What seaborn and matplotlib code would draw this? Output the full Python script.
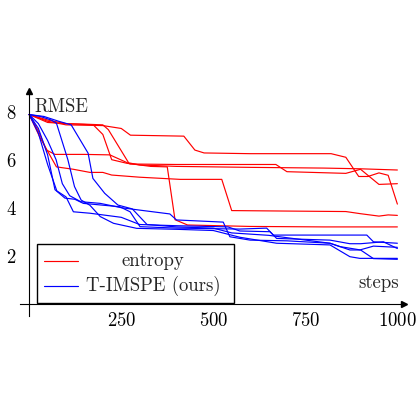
import pandas as pd
import matplotlib
matplotlib.use("Agg")
import matplotlib.pyplot as plt
import matplotlib.patches as mpatches
import seaborn as sns

sns.set_style("white")
plt.rcParams['font.family'] = ['cmr10', 'DejaVu Serif']
plt.rcParams['axes.formatter.use_mathtext'] = True

# entropy runs (red)
ent1_steps = [0, 50, 100, 200, 250, 275, 420, 450, 475, 600, 820, 860, 895, 920, 950, 975, 1000]
ent1_rmse = [7.88, 7.6, 7.45, 7.42, 7.3, 7.02, 6.98, 6.4, 6.28, 6.25, 6.25, 6.1, 5.3, 5.3, 5.45, 5.35, 4.15]
ent2_steps = [0, 25, 47, 70, 150, 219, 274, 400, 670, 700, 860, 900, 950, 1000]
ent2_rmse = [7.88, 7.2, 6.4, 6.22, 6.22, 6.2, 5.82, 5.8, 5.8, 5.5, 5.43, 5.6, 4.97, 5.0]
ent3_steps = [0, 50, 100, 174, 200, 224, 265, 330, 375, 396, 430, 600, 800, 1000]
ent3_rmse = [7.88, 7.55, 7.5, 7.45, 7.05, 6.0, 5.85, 5.72, 5.7, 3.5, 3.28, 3.22, 3.2, 3.2]
ent4_steps = [0, 50, 100, 150, 200, 215, 270, 300, 400, 600, 800, 900, 1000]
ent4_rmse = [7.88, 7.65, 7.5, 7.48, 7.45, 7.25, 5.87, 5.78, 5.72, 5.68, 5.65, 5.62, 5.57]
ent5_steps = [0, 30, 74, 120, 165, 200, 224, 300, 410, 523, 550, 700, 860, 900, 950, 975, 1000]
ent5_rmse = [7.88, 6.9, 5.7, 5.6, 5.47, 5.47, 5.36, 5.27, 5.18, 5.18, 3.88, 3.86, 3.84, 3.75, 3.65, 3.7, 3.68]

# T-IMSPE runs (blue)
tim1_steps = [0, 25, 50, 70, 97, 124, 147, 246, 274, 301, 400, 572, 645, 672, 817, 871, 900, 962, 1000]
tim1_rmse = [7.88, 7.3, 6.2, 4.75, 4.4, 4.35, 4.18, 4.04, 3.83, 3.21, 3.15, 3.11, 3.15, 2.72, 2.65, 2.5, 2.5, 2.58, 2.3]
tim2_steps = [0, 25, 50, 75, 100, 120, 165, 250, 300, 400, 540, 572, 654, 663, 917, 935, 1000]
tim2_rmse = [7.88, 7.1, 5.8, 4.7, 4.45, 3.83, 3.77, 3.6, 3.3, 3.25, 3.2, 3.03, 3.0, 2.86, 2.86, 2.58, 2.52]
tim3_steps = [0, 25, 50, 73, 90, 110, 140, 193, 250, 300, 382, 400, 527, 545, 600, 700, 817, 871, 898, 935, 1000]
tim3_rmse = [7.88, 7.5, 6.8, 6.0, 5.0, 4.5, 4.25, 4.18, 4.0, 3.9, 3.74, 3.49, 3.4, 2.79, 2.65, 2.62, 2.52, 2.24, 2.24, 2.4, 2.35]
tim4_steps = [0, 30, 60, 74, 105, 123, 141, 165, 193, 229, 292, 400, 500, 572, 672, 817, 871, 898, 1000]
tim4_rmse = [7.88, 7.8, 7.65, 7.52, 6.0, 4.88, 4.32, 4.1, 3.63, 3.35, 3.14, 3.1, 3.05, 2.77, 2.52, 2.45, 1.96, 1.89, 1.89]
tim5_steps = [0, 40, 80, 114, 160, 173, 205, 241, 280, 320, 400, 500, 550, 650, 817, 844, 900, 935, 1000]
tim5_rmse = [7.88, 7.8, 7.6, 7.45, 6.27, 5.22, 4.6, 4.11, 3.95, 3.3, 3.2, 3.15, 2.95, 2.85, 2.52, 2.38, 2.24, 1.88, 1.85]

runs = [
    ("entropy", 1, ent1_steps, ent1_rmse),
    ("entropy", 2, ent2_steps, ent2_rmse),
    ("entropy", 3, ent3_steps, ent3_rmse),
    ("entropy", 4, ent4_steps, ent4_rmse),
    ("entropy", 5, ent5_steps, ent5_rmse),
    ("T-IMSPE (ours)", 1, tim1_steps, tim1_rmse),
    ("T-IMSPE (ours)", 2, tim2_steps, tim2_rmse),
    ("T-IMSPE (ours)", 3, tim3_steps, tim3_rmse),
    ("T-IMSPE (ours)", 4, tim4_steps, tim4_rmse),
    ("T-IMSPE (ours)", 5, tim5_steps, tim5_rmse),
]
frames = []
for method, run, st, rm in runs:
    frames.append(pd.DataFrame({"method": method, "run": run, "steps": st, "rmse": rm}))
df = pd.concat(frames, ignore_index=True)

fig = plt.figure(figsize=(4.2, 4.2), dpi=100)
ax = fig.add_axes([20 / 420, 1 - 316 / 420, 384 / 420, 225 / 420])

sns.lineplot(data=df, x="steps", y="rmse", hue="method", units="run",
             estimator=None, sort=False, palette={"entropy": "red", "T-IMSPE (ours)": "blue"},
             linewidth=0.85, legend=False, ax=ax)

ax.set_xlim(-25, 1018)
ax.set_ylim(-0.51, 8.86)
ax.set_xticks([250, 500, 750, 1000])
ax.set_yticks([2, 4, 6, 8])
ax.set_xlabel("")
ax.set_ylabel("")

for s in ["top", "right"]:
    ax.spines[s].set_visible(False)
ax.spines["left"].set_position(("data", 0))
ax.spines["bottom"].set_position(("data", 0))
for s in ["left", "bottom"]:
    ax.spines[s].set_linewidth(0.8)
    ax.spines[s].set_color("black")
ax.tick_params(direction="inout", length=4, width=0.6, labelsize=13.5, colors="black")
ax.tick_params(axis="x", pad=4)
ax.tick_params(axis="y", pad=7)

ax.plot(1, 0, ">k", markersize=4, transform=ax.get_yaxis_transform(), clip_on=False)
ax.plot(0, 1, "^k", markersize=4, transform=ax.get_xaxis_transform(), clip_on=False)

ax.text(0.0365, 1 - (112 - 91) / 225, "RMSE", transform=ax.transAxes,
        fontsize=13.5, ha="left", va="baseline")
ax.text((399 - 20) / 384, (316 - 288) / 225, "steps", transform=ax.transAxes,
        fontsize=13.5, ha="right", va="baseline")

# legend box drawn by hand to get centred labels
def axx(px):
    return (px - 20) / 384

def axy(py):
    return (316 - py) / 225

box = mpatches.Rectangle((axx(37), axy(303)), axx(234) - axx(37), axy(244) - axy(303),
                         transform=ax.transAxes, facecolor="white", edgecolor="black",
                         linewidth=1.0, zorder=5)
ax.add_patch(box)
for label, col, py in [("entropy", "red", 261), ("T-IMSPE (ours)", "blue", 286)]:
    ax.plot([axx(44), axx(78)], [axy(py), axy(py)], color=col, linewidth=0.85,
            transform=ax.transAxes, zorder=6)
    ax.text(axx(153), axy(py), label, transform=ax.transAxes, fontsize=13.5,
            ha="center", va="center", zorder=6)

plt.savefig("out.png", dpi=100)
